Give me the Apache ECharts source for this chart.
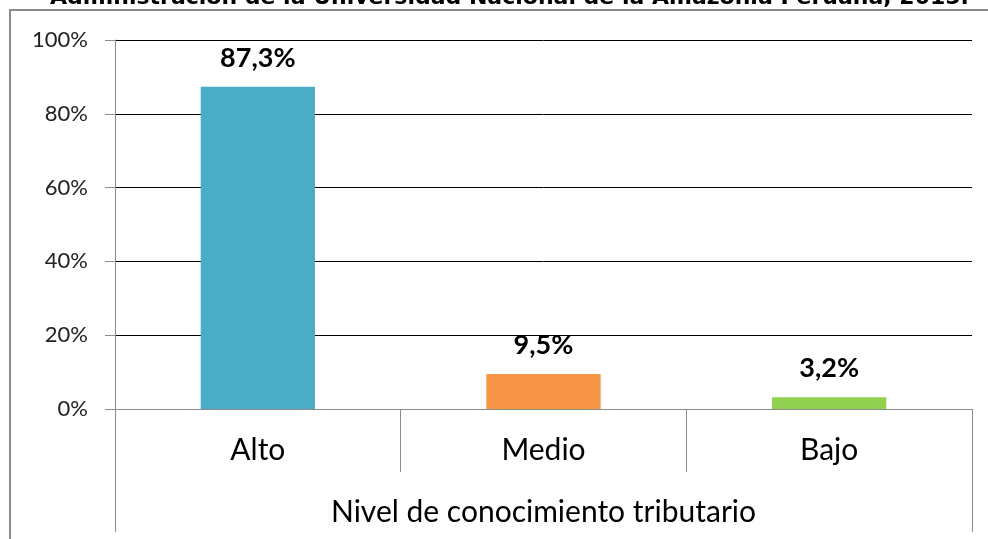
<!DOCTYPE html>
<html lang="es">
  <head>
    <meta charset="UTF-8" />
    <title>Nivel de conocimiento tributario</title>
  </head>
  <body style="margin: 0">
    <div id="main" style="width: 988px; height: 539px"></div>
    <script src="https://cdn.jsdelivr.net/npm/echarts@6.0.0/dist/echarts.min.js"></script>
    <script>
      // data
      const categories = ["Alto", "Medio", "Bajo"];
      const values = [87.3, 9.5, 3.2];
      const barColors = ["#4BACC6", "#F79646", "#92D050"];
      const yTicks = [0, 20, 40, 60, 80, 100];
      const axisName = "Nivel de conocimiento tributario";
      const titleText =
        "Administración de la Universidad Nacional de la Amazonía Peruana, 2015.";

      const font = "Lato, 'Open Sans', sans-serif";
      const gray = "#8c8c8c";

      var chart = echarts.init(document.getElementById("main"));

      chart.setOption({
        animation: false,
        backgroundColor: "#fff",
        graphic: [
          {
            type: "rect",
            shape: { x: 10, y: 10, width: 1100, height: 700 },
            style: { fill: null, stroke: gray, lineWidth: 2 },
            silent: true,
          },
          {
            // title is cut off by the top edge of the picture
            type: "text",
            left: 50,
            top: -13,
            style: {
              text: titleText,
              font: "bold 22px 'DejaVu Sans', sans-serif",
              fill: "#000",
            },
          },
        ],
        grid: { left: 115, right: 16, top: 40, bottom: 130, outerBoundsMode: "none" },
        xAxis: [
          {
            type: "category",
            data: categories,
            axisLine: { lineStyle: { color: gray } },
            axisTick: { show: true, length: 63, lineStyle: { color: gray } },
            axisLabel: { fontSize: 30, color: "#000", margin: 26, fontFamily: font },
            name: axisName,
            nameLocation: "middle",
            nameGap: 88,
            nameTextStyle: { fontSize: 30, color: "#000", fontFamily: font },
          },
          {
            // only used to draw the two long edge lines of the category table
            type: "category",
            position: "bottom",
            data: [""],
            axisLine: { show: false },
            axisTick: { show: true, length: 123, lineStyle: { color: gray } },
            axisLabel: { show: false },
          },
        ],
        yAxis: {
          type: "value",
          min: yTicks[0],
          max: yTicks[yTicks.length - 1],
          interval: yTicks[1] - yTicks[0],
          axisLine: { show: true, lineStyle: { color: gray } },
          axisTick: { show: true, length: 10, lineStyle: { color: gray } },
          axisLabel: {
            formatter: "{value}%",
            fontSize: 22,
            color: "#222",
            margin: 27,
            fontFamily: font,
          },
          splitLine: { lineStyle: { color: "#000", width: 1 } },
        },
        series: [
          {
            type: "bar",
            xAxisIndex: 0,
            barWidth: "40%",
            data: values.map((v, i) => ({
              value: v,
              itemStyle: { color: barColors[i] },
            })),
            label: {
              show: true,
              position: "top",
              distance: 15,
              fontSize: 27,
              fontWeight: "bold",
              color: "#000",
              fontFamily: font,
              formatter: (p) => p.value.toFixed(1).replace(".", ",") + "%",
            },
          },
        ],
      });
    </script>
  </body>
</html>
